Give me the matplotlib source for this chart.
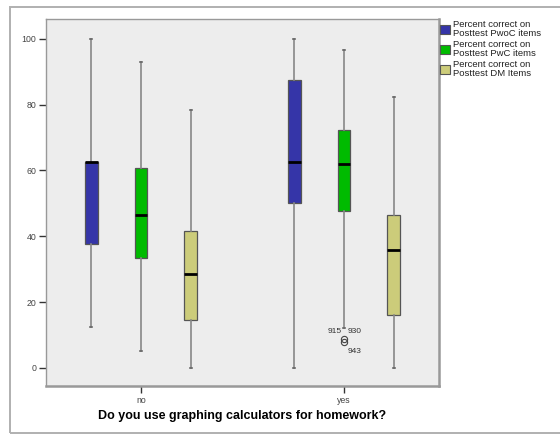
import matplotlib
matplotlib.use("Agg")
import matplotlib.pyplot as plt
from matplotlib.patches import Rectangle, Patch

plt.rcParams['font.family'] = ['Liberation Sans', 'DejaVu Sans']

groups = ["no", "yes"]
series = ["Percent correct on\nPosttest PwoC items",
          "Percent correct on\nPosttest PwC items",
          "Percent correct on\nPosttest DM Items"]
colors = ["#3535a8", "#00bb00", "#cccc7a"]

# whisker low, q1, median, q3, whisker high  (per series, per group)
pwoc = [[12.5, 37.5, 62.5, 62.5, 100.0], [0.0, 50.0, 62.5, 87.5, 100.0]]
pwc = [[5.1, 33.5, 46.5, 60.8, 93.0], [12.1, 47.8, 62.0, 72.4, 96.5]]
dm = [[0.0, 14.4, 28.5, 41.5, 78.5], [0.0, 16.2, 35.8, 46.4, 82.2]]
fliers = {(1, 1): [8.8, 7.8]}
flier_ids = ["915", "930", "943"]

offsets = [-0.246, 0.0, 0.246]

fig = plt.figure(figsize=(5.6, 4.38), dpi=100)

# outer chart frame
fig.patches.append(Rectangle((10 / 560, 1 - 433 / 438), 560 / 560, 426 / 438,
                             transform=fig.transFigure, fill=False,
                             edgecolor="#b0b0b0", linewidth=1.4, clip_on=False))

ax = fig.add_axes([46 / 560, 1 - 386 / 438, 393 / 560, 367 / 438])
ax.set_facecolor("#ededed")

for si, data in enumerate([pwoc, pwc, dm]):
    stats = []
    pos = []
    for gi, (lo, q1, med, q3, hi) in enumerate(data):
        stats.append(dict(whislo=lo, q1=q1, med=med, q3=q3, whishi=hi,
                          fliers=fliers.get((si, gi), [])))
        pos.append(gi + offsets[si])
    ax.bxp(stats, positions=pos, widths=0.064, patch_artist=True,
           capwidths=0.012,
           boxprops=dict(facecolor=colors[si], edgecolor="#555555", linewidth=0.9),
           medianprops=dict(color="black", linewidth=2),
           whiskerprops=dict(color="#888888", linewidth=1.2),
           capprops=dict(color="#666666", linewidth=1.2),
           flierprops=dict(marker="o", markerfacecolor="none",
                           markeredgecolor="#444444", markersize=4.5,
                           markeredgewidth=0.8))

# outlier case numbers
fx = 1 + offsets[1]
ax.text(fx - 0.012, 11.2, flier_ids[0], fontsize=6, ha="right", va="center", color="#333333")
ax.text(fx + 0.018, 11.2, flier_ids[1], fontsize=6, ha="left", va="center", color="#333333")
ax.text(fx + 0.018, 5.0, flier_ids[2], fontsize=6, ha="left", va="center", color="#333333")

ax.set_xlim(-0.468, 1.468)
ax.set_ylim(-5.5, 106)
ax.set_yticks([0, 20, 40, 60, 80, 100])
ax.set_xticks([0, 1])
ax.set_xticklabels(groups)
ax.tick_params(axis="both", labelsize=6.3, direction="out", length=5,
               width=1, colors="#333333", labelcolor="#444444", pad=2)
for side in ["top", "left"]:
    ax.spines[side].set_color("#999999")
    ax.spines[side].set_linewidth(1)
for side in ["right", "bottom"]:
    ax.spines[side].set_color("#999999")
    ax.spines[side].set_linewidth(1.8)

ax.set_xlabel("Do you use graphing calculators for homework?",
              fontsize=9, fontweight="bold", labelpad=4)

handles = [Patch(facecolor=c, edgecolor="#555555", linewidth=0.8) for c in colors]
leg = fig.legend(handles, series, loc="upper left",
                 bbox_to_anchor=(439 / 560, 1 - 19 / 438),
                 frameon=False, fontsize=6.8, handlelength=1.05, handleheight=1.1,
                 handletextpad=0.35, labelspacing=0.2, borderaxespad=0, borderpad=0.1)
for t in leg.get_texts():
    t.set_linespacing(1.02)
    t.set_color("#222222")

fig.savefig("out.png", dpi=100)
